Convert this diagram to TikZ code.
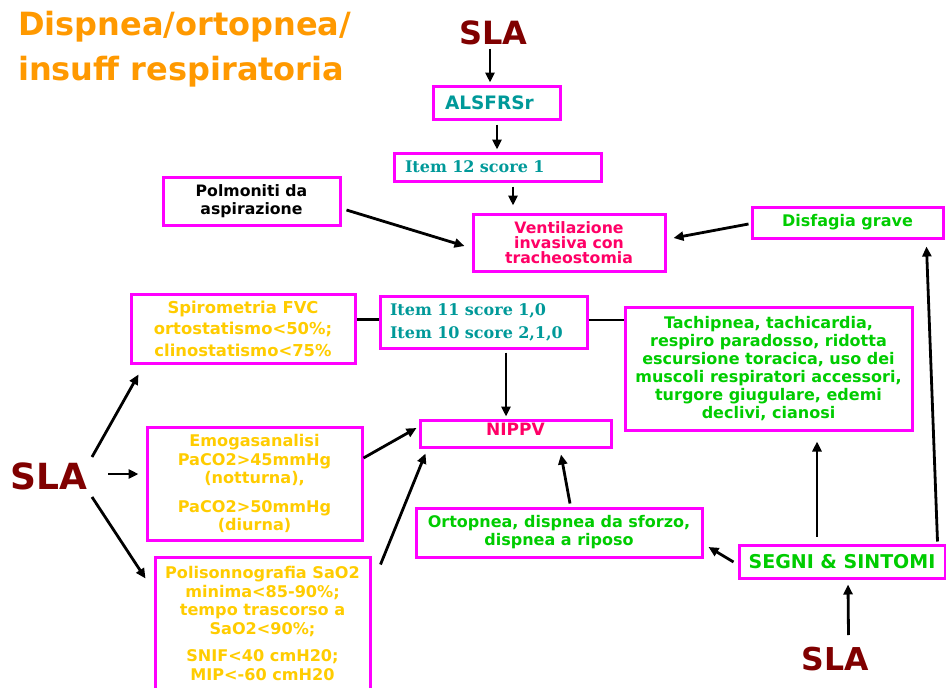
\documentclass[tikz,border=0pt]{standalone}
\usepackage{fontspec}
\setmainfont{DejaVu Sans}
\newfontfamily\serifbold{DejaVu Serif}
\usetikzlibrary{arrows.meta,calc}

\definecolor{boxmag}{RGB}{255,0,255}
\definecolor{titleorange}{RGB}{255,153,0}
\definecolor{sladark}{RGB}{128,0,0}
\definecolor{tealtxt}{RGB}{0,153,153}
\definecolor{redtxt}{RGB}{255,0,102}
\definecolor{greentxt}{RGB}{0,204,0}
\definecolor{yellowtxt}{RGB}{255,204,0}

\newcommand{\fsz}[2]{\fontsize{#1}{#2}\selectfont}

\begin{document}
\begin{tikzpicture}[x=1pt,y=-1pt,
  box/.style={draw=boxmag, line width=3pt, inner sep=0pt, align=center,
              font=\bfseries\fsz{16}{18}},
  arr/.style={-{Triangle[length=10pt,width=9pt]}, line width=2.8pt},
  link/.style={line width=2.8pt},
  slatext/.style={font=\bfseries\fsz{#1}{#1}, text=sladark, inner sep=0pt, anchor=base},
  titletext/.style={font=\bfseries\fsz{32}{36}, text=titleorange, inner sep=0pt, anchor=base west}]

\useasboundingbox (0,0) rectangle (946,688);

% heading
\node[titletext] (title1) at (18,35) {Dispnea/ortopnea/};
\node[titletext] (title2) at (18,80) {insuff respiratoria};

% the three entry points
\node[slatext=32] (sla1) at (493.5,44) {SLA};
\node[slatext=36] (sla2) at (49,489) {SLA};
\node[slatext=31.5] (sla3) at (835.5,670) {SLA};

% upper branch
\node[box, minimum width=127, minimum height=33, text width=103, align=left,
      text=tealtxt, font=\bfseries\fsz{18.5}{18}] (alsfrs) at (496.5,102.5) {ALSFRSr};
\node[box, minimum width=207, minimum height=28, text width=185, align=left,
      text=tealtxt, font=\serifbold\bfseries\fsz{16}{18}] (item12) at (497.5,167) {Item 12 score 1};
\node[box, minimum width=177, minimum height=48, text=black,
      font=\bfseries\fsz{15.7}{18}] (polm) at (251.5,201)
  {Polmoniti da\\aspirazione};
\node[box, minimum width=192, minimum height=57, text=redtxt,
      font=\bfseries\fsz{15.7}{15}] (vent) at (569,242.5)
  {Ventilazione\\invasiva con\\tracheostomia};
\node[box, minimum width=191, minimum height=31, text=greentxt] (disf) at (847.5,222.5)
  {Disfagia grave};

% middle row
\node[box, minimum width=224, minimum height=69, text=yellowtxt,
      font=\bfseries\fsz{16.4}{21.5}] (spiro) at (243,328.5)
  {Spirometria FVC\\ortostatismo<50\%;\\clinostatismo<75\%};
\node[box, minimum width=207, minimum height=52, text width=187, align=left,
      text=tealtxt, font=\serifbold\bfseries\fsz{16}{23}] (item11) at (483.5,322)
  {Item 11 score 1,0\\Item 10 score 2,1,0};
\node[box, minimum width=287, minimum height=123, text=greentxt] (tachi) at (768.5,368.5)
  {Tachipnea, tachicardia,\\respiro paradosso, ridotta\\escursione toracica, uso dei\\%
   muscoli respiratori accessori,\\turgore giugulare, edemi\\declivi, cianosi};
\node[box, minimum width=191, minimum height=27, text=redtxt, font=\bfseries\fsz{17}{18},
      text height=11.5pt, text depth=8.5pt] (nippv) at (515.5,433.5) {NIPPV};

% lower left criteria
\node[box, minimum width=215, minimum height=113, text=yellowtxt,
      font=\bfseries\fsz{16.1}{18.5}] (emog) at (254.5,483.5)
  {Emogasanalisi\\PaCO2>45mmHg\\(notturna),\\[10pt]PaCO2>50mmHg\\(diurna)};
\node[box, minimum width=215, minimum height=133, text=yellowtxt,
      font=\bfseries\fsz{16.1}{18.5}] (poli) at (262.5,623.5)
  {Polisonnografia SaO2\\minima<85-90\%;\\tempo trascorso a\\SaO2<90\%;\\[9pt]%
   SNIF<40 cmH20;\\MIP<-60 cmH20};

% signs and symptoms
\node[box, minimum width=286, minimum height=49, text=greentxt,
      font=\bfseries\fsz{16}{18}] (orto) at (559,532.5)
  {Ortopnea, dispnea da sforzo,\\dispnea a riposo};
\node[box, minimum width=206, minimum height=33, text=greentxt,
      font=\bfseries\fsz{19}{18}] (segni) at (842,561.5) {SEGNI \& SINTOMI};

% connectors: top chain
\draw[arr] ($(sla1.south)+(-3.5,4)$) -- ($(alsfrs.north)+(-6.5,-2)$);
\draw[arr] ($(alsfrs.south)+(0.5,4)$) -- ($(item12.north)+(-0.5,-2)$);
\draw[arr] ($(item12.south)+(15.5,4)$) -- ($(vent.north)+(-56,-7)$);
\draw[arr] ($(polm.east)+(5,9)$) -- ($(vent.west)+(-7,3.5)$);
\draw[arr] ($(disf.west)+(-2,1.5)$) -- ($(vent.east)+(7,-4.5)$);

% connectors: middle row
\draw[link] ($(spiro.east)+(0,-9)$) -- ($(item11.west)+(0,-2.5)$);
\draw[link] ($(item11.east)+(0,-2)$) -- ($(tachi.west)+(0,-48.5)$);
\draw[arr] ($(item11.south)+(22.5,3)$) -- ($(nippv.north)+(-9.5,-2)$);

% connectors: left SLA fan
\draw[arr] ($(sla2.base)+(43,-32)$) -- ($(spiro.south west)+(9,10)$);
\draw[arr] ($(sla2.base)+(59,-15)$) -- ($(emog.west)+(-7,-9.5)$);
\draw[arr] ($(sla2.base)+(43,8)$) -- ($(poli.north west)+(-8,23)$);

% connectors into NIPPV
\draw[arr] ($(emog.east)+(0,-25.5)$) -- ($(nippv.west)+(-2,-5.5)$);
\draw[arr] ($(poli.north east)+(9,9)$) -- ($(nippv.south west)+(7,5)$);
\draw[arr] ($(orto.north)+(11,-3)$) -- ($(nippv.south)+(45.5,6)$);

% connectors from signs and symptoms
\draw[arr] ($(segni.west)+(-4,0.5)$) -- ($(orto.east)+(5,14.5)$);
\draw[arr] ($(segni.north)+(-25,-7)$) -- ($(tachi.south)+(48.5,10)$);
\draw[arr] ($(segni.north east)+(-9,-2)$) -- ($(disf.south east)+(-18,7)$);
\draw[arr] ($(sla3.base)+(13,-35)$) -- ($(segni.south)+(6,5)$);

\end{tikzpicture}
\end{document}
